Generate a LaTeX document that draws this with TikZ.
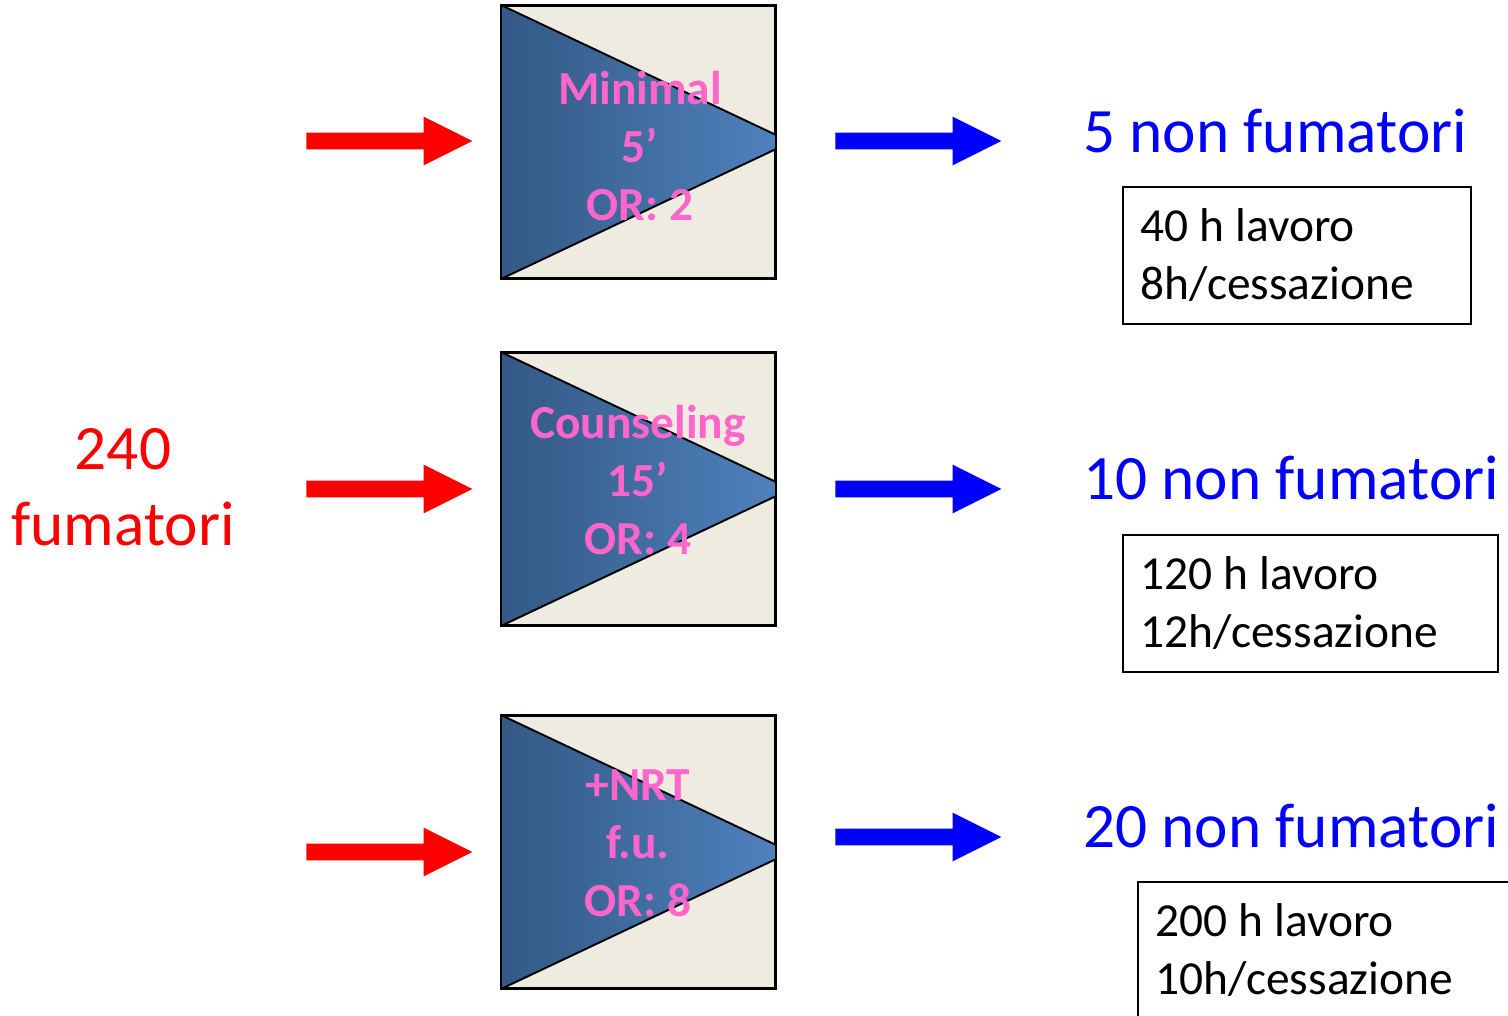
\documentclass[tikz,border=0pt]{standalone}
\usepackage{fontspec}
\setmainfont{Carlito}
\usepackage{xcolor}
\usetikzlibrary{shapes.arrows,calc}
\definecolor{arrred}{HTML}{FF0000}
\definecolor{arrblue}{HTML}{0000FF}
\definecolor{panebg}{HTML}{EEEBE0}
\definecolor{tridark}{HTML}{335985}
\definecolor{trilight}{HTML}{5083BF}
\definecolor{labpink}{HTML}{FF66CC}

\begin{document}
\begin{tikzpicture}[
  x=0.02cm,y=-0.02cm,
  pane/.style={draw=black,line width=1.1pt,fill=panebg,
               minimum width=5.46cm,minimum height=5.44cm,inner sep=0pt},
  lab/.style={text=labpink,font=\fontsize{27}{33}\selectfont\bfseries,
              align=center,anchor=base},
  inarr/.style={single arrow,fill=arrred,draw=none,inner xsep=0pt,inner ysep=0.16cm,
                minimum height=3.32cm,minimum width=0.96cm,
                single arrow head extend=0.32cm,single arrow tip angle=53.13,
                anchor=tail},
  outarr/.style={inarr,fill=arrblue},
  res/.style={text=arrblue,font=\fontsize{36}{43}\selectfont,anchor=base west},
  cost/.style={draw=black,line width=0.9pt,font=\fontsize{27}{33}\selectfont,
               align=flush left,anchor=north west,inner xsep=0.36cm,
               minimum height=2.74cm},
]
\useasboundingbox (0,0) rectangle (1508,1015);

% Three intervention panes
\node[pane] (p1) at (638.5,142) {};
\node[pane] (p2) at (638.5,489) {};
\node[pane] (p3) at (638.5,852) {};
\foreach \p in {p1,p2,p3}{
  \begin{scope}
    \clip (\p.north west) rectangle (\p.south east);
    \shade[left color=tridark,right color=trilight]
      (\p.north west) -- (\p.south west) -- ($(\p.east)+(15,0)$) -- cycle;
    \draw[line width=1.1pt]
      (\p.north west) -- ($(\p.east)+(15,0)$) -- (\p.south west);
  \end{scope}
  \draw[line width=1.1pt] (\p.north west) rectangle (\p.south east);
}

% Labels on the panes (base = last line)
\node[lab] (l1) at (640,220) {Minimal\\5’\\OR: 2};
\node[lab] (l2) at (638,554) {Counseling\\15’\\OR: 4};
\node[lab] (l3) at (638,916) {+NRT\\f.u.\\OR: 8};

% Smokers going in
\node[text=arrred,font=\fontsize{36}{43}\selectfont,align=center,anchor=base]
  (smk) at (123,545) {240\\fumatori};
\node[inarr] (i1) at (306,141) {};
\node[inarr] (i2) at (306,489) {};
\node[inarr] (i3) at (306,852) {};

% Quitters coming out
\node[outarr] (o1) at (835,141) {};
\node[outarr] (o2) at (835,489) {};
\node[outarr] (o3) at (835,837) {};
\node[res] (r1) at (1077,152) {5 non fumatori};
\node[res] (r2) at (1077,499) {10 non fumatori};
\node[res] (r3) at (1077,847) {20 non fumatori};

% Workload per result
\node[cost,text width=6.24cm] (c1) at (1122,186) {40 h lavoro\\8h/cessazione};
\node[cost,text width=6.78cm] (c2) at (1122,534) {120 h lavoro\\12h/cessazione};
\node[cost,text width=6.78cm] (c3) at (1137,881) {200 h lavoro\\10h/cessazione};
\end{tikzpicture}
\end{document}
